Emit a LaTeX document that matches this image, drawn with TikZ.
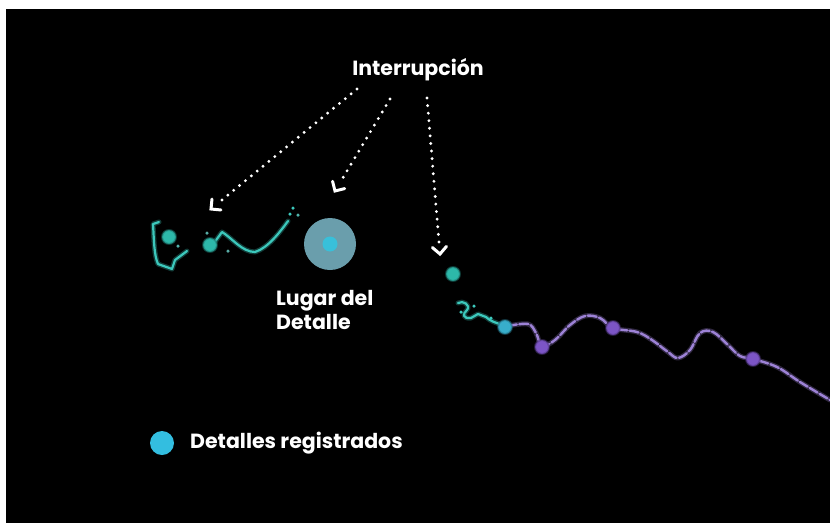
\documentclass[tikz,border=0pt]{standalone}
\usepackage{fontspec}
\setmainfont{Poppins}
\usetikzlibrary{calc}
\definecolor{tealtr}{HTML}{3CC8BC}
\definecolor{tealdot}{HTML}{2DB8AA}
\definecolor{bluedot}{HTML}{38AECB}
\definecolor{bigc}{HTML}{6A9EAC}
\definecolor{innerc}{HTML}{38C0DA}
\definecolor{legc}{HTML}{33BEE0}
\definecolor{purl}{HTML}{9D82D6}
\definecolor{purd}{HTML}{7C55C6}
\tikzset{
  lbl/.style={text=white, font=\fontsize{20.5}{24}\selectfont\bfseries, inner sep=0pt},
  dotline/.style={white, line width=3.2pt, line cap=round, dash pattern=on 0pt off 7.6pt},
  chev/.style={white, line width=3pt, line cap=round, line join=miter},
  trailglow/.style={tealtr, opacity=0.3, line width=5pt, line cap=round, line join=round},
  trail/.style={tealtr, line width=2.2pt, line cap=round, line join=round},
  pglow/.style={purl, opacity=0.3, line width=5pt, line cap=round, line join=round},
  ptrail/.style={purl, line width=2.4pt, line cap=round, line join=round, dash pattern=on 9pt off 2.5pt},
  gdot/.style={circle, inner sep=0pt, minimum size=14pt, fill=#1, draw=#1!60!black, line width=2pt, draw opacity=0.5},
  sdot/.style={circle, inner sep=0pt, minimum size=3.5pt, fill=#1},
}
\begin{document}
\begin{tikzpicture}[x=1pt,y=-1pt]
\fill[white] (0,0) rectangle (830,523);
\fill[black] (6,9) rectangle (830,523);
\useasboundingbox (0,0) rectangle (830,523);

% label and arrows
\node[lbl] (intr) at (418,70) {Interrupción};
\coordinate (a1s) at (357,89);  \coordinate (a1e) at (211,209);
\coordinate (a2s) at (390,99);  \coordinate (a2e) at (335,191);
\coordinate (a3s) at (427,98);  \coordinate (a3e) at (440,254);
\foreach \s/\e in {a1s/a1e, a2s/a2e, a3s/a3e}{
  \draw[dotline] (\s) -- ($(\e)!11pt!(\s)$);
  \draw[chev] ($(\e)!10pt!45:(\s)$) -- (\e) -- ($(\e)!10pt!-45:(\s)$);
}

% left trail
\foreach \st in {trailglow, trail}{
  \draw[\st] (159,222) -- (153,224) .. controls (154,240) and (154,255) .. (158,264) -- (172,269) -- (175,260) -- (187,251);
  \draw[\st] (214,243) -- (222,232) .. controls (232,238) and (242,252) .. (255,252) .. controls (268,248) and (280,232) .. (288,221);
}
\node[sdot=tealtr] (s1) at (293,208) {};
\node[sdot=tealtr] (s2) at (290,214) {};
\node[sdot=tealtr!70!gray] (s3) at (298,215) {};
\node[sdot=tealtr!60!gray] (s4) at (228,251) {};
\node[sdot=tealtr!60!gray] (s5) at (207,233) {};
\node[sdot=tealtr!70!gray] (s6) at (178,246) {};
\node[gdot=tealdot] (d1) at (169,237) {};
\node[gdot=tealdot] (d2) at (210,245) {};

% place of detail
\node[circle, fill=bigc, minimum size=52pt, inner sep=0pt] (big) at (330,244) {};
\node[circle, fill=innerc, minimum size=15pt, inner sep=0pt] (inner) at (330,244) {};
\node[lbl, align=left, anchor=north west] (lug) at (276,290) {Lugar del\\Detalle};

% right trail
\foreach \st in {trailglow, trail}{
  \draw[\st] (458,303) .. controls (463,300) and (471,305) .. (467,310) .. controls (462,314) and (463,319) .. (471,318) -- (478,314) -- (486,317) .. controls (490,321) and (496,323) .. (503,325);
}
\node[sdot=tealtr] (s7) at (461,312) {};
\node[sdot=tealtr] (s8) at (474,306) {};
\node[sdot=tealtr] (s9) at (491,318) {};

\draw[pglow] plot[smooth, tension=0.6] coordinates {(508,326) (528,324) (536,333) (542,346) (555,340) (570,325) (585,316) (600,318) (613,328) (637,332) (652,340) (668,352) (678,358) (690,350) (700,333) (713,332) (728,345) (740,356) (753,359) (777,367) (800,382) (830,400)};
\draw[ptrail] plot[smooth, tension=0.6] coordinates {(508,326) (528,324) (536,333) (542,346) (555,340) (570,325) (585,316) (600,318) (613,328) (637,332) (652,340) (668,352) (678,358) (690,350) (700,333) (713,332) (728,345) (740,356) (753,359) (777,367) (800,382) (830,400)};

\node[gdot=tealdot] (d3) at (453,274) {};
\node[gdot=bluedot] (d4) at (505,327) {};
\node[gdot=purd] (d5) at (542,347) {};
\node[gdot=purd] (d6) at (613,328) {};
\node[gdot=purd] (d7) at (753,359) {};

% legend
\node[circle, fill=legc, minimum size=24pt, inner sep=0pt] (leg) at (162,443) {};
\node[lbl, anchor=west] (legt) at (190,443) {Detalles registrados};
\end{tikzpicture}
\end{document}
